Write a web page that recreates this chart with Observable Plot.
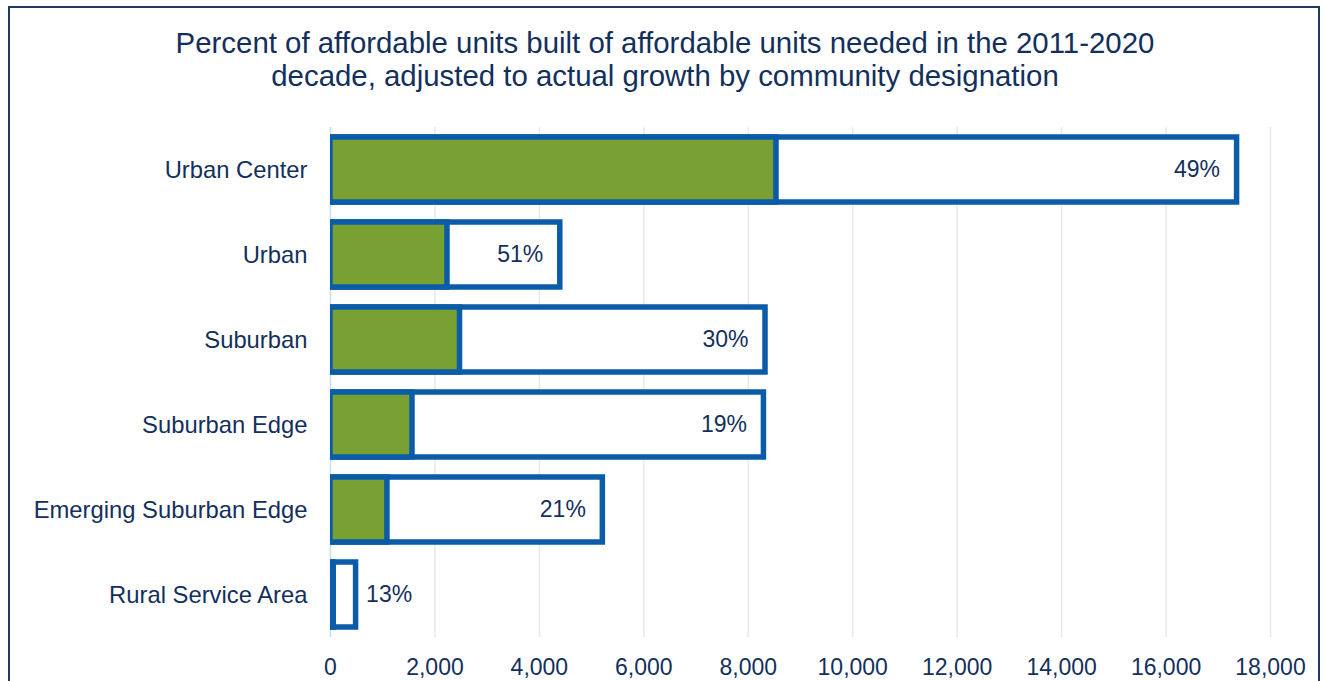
<!DOCTYPE html>
<html>
<head>
<meta charset="utf-8">
<script src="https://cdn.jsdelivr.net/npm/d3@7"></script>
<script src="https://cdn.jsdelivr.net/npm/@observablehq/plot@0.6"></script>
<style>
  html, body { margin: 0; padding: 0; background: #fff; overflow: hidden; }
  body { width: 1325px; height: 681px; position: relative; font-family: "Liberation Sans", Arial, sans-serif; }
  #frame { position: absolute; left: 8px; top: 6px; width: 1312px; height: 700px; border: 2px solid #1f3864; border-bottom: none; box-sizing: border-box; }
  #title { position: absolute; left: 8px; width: 1314px; top: 27px; text-align: center; font-size: 29.4px; line-height: 32.5px; color: #13305c; }
  #chart { position: absolute; left: 0; top: 0; }
</style>
</head>
<body>
<div id="frame"></div>
<div id="title">Percent of affordable units built of affordable units needed in the 2011-2020<br>decade, adjusted to actual growth by community designation</div>
<div id="chart"></div>
<script>
const categories = ["Urban Center", "Urban", "Suburban", "Suburban Edge", "Emerging Suburban Edge", "Rural Service Area"];
const needed = [17360, 4400, 8330, 8300, 5215, 490];
const built = [8540, 2240, 2480, 1570, 1090, 62];
const pctLabels = ["49%", "51%", "30%", "19%", "21%", "13%"];
const xTicks = [0, 2000, 4000, 6000, 8000, 10000, 12000, 14000, 16000, 18000];

const rows = categories.map((c, i) => ({category: c, needed: needed[i], built: built[i], label: pctLabels[i]}));

const textColor = "#13305c";
const blue = "#0b5ca8";
const green = "#78a033";

const chart = Plot.plot({
  width: 1325,
  height: 681,
  marginLeft: 330,
  marginRight: 55,
  marginTop: 127,
  marginBottom: 44,
  style: {fontFamily: "'Liberation Sans', Arial, sans-serif", fontSize: "23px", color: textColor, background: "transparent"},
  x: {domain: [0, 18000], ticks: xTicks, tickFormat: d3.format(","), label: null},
  y: {domain: categories, paddingInner: 0.24, paddingOuter: 0.12, label: null},
  marks: [
    Plot.ruleX(xTicks.filter(d => d > 0), {stroke: "#e8e8e8", strokeWidth: 1.5}),
    Plot.ruleX([0], {stroke: "#c9dcf0", strokeWidth: 1.5}),
    Plot.barX(rows, {y: "category", x1: 0, x2: "needed", fill: "white", stroke: blue, strokeWidth: 5.5, clip: true}),
    Plot.barX(rows, {y: "category", x1: 0, x2: "built", fill: green, stroke: blue, strokeWidth: 5.5, clip: true}),
    Plot.text(rows.filter(d => d.needed > 2000), {y: "category", x: "needed", text: "label", textAnchor: "end", dx: -17, fill: textColor, fontSize: 23}),
    Plot.text(rows.filter(d => d.needed <= 2000), {y: "category", x: "needed", text: "label", textAnchor: "start", dx: 10, fill: textColor, fontSize: 23}),
    Plot.axisX({ticks: xTicks, tickFormat: d3.format(","), tickSize: 0, tickPadding: 21, fontSize: 23, fill: textColor, label: null}),
    Plot.axisY({tickSize: 0, tickPadding: 23, fontSize: 23.8, fill: textColor, label: null})
  ]
});
document.getElementById("chart").appendChild(chart);
</script>
</body>
</html>
